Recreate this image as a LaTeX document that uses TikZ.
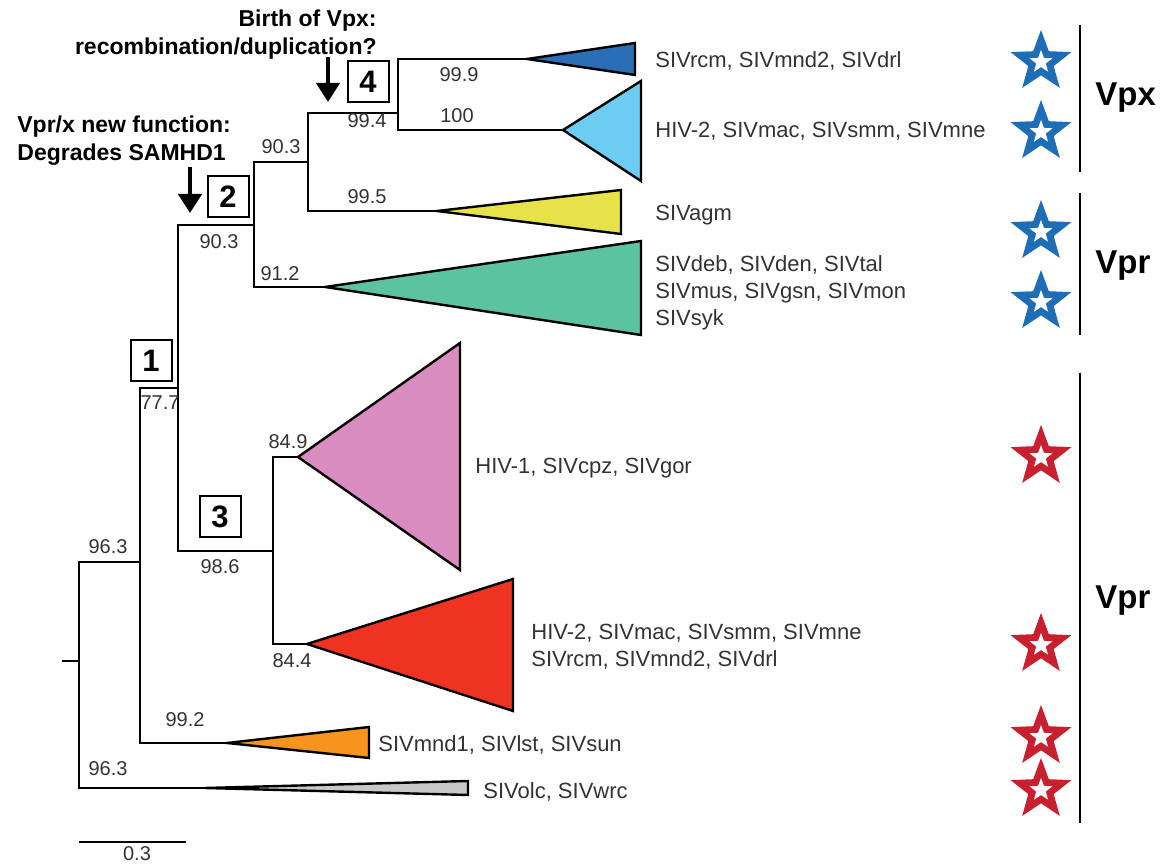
\documentclass[tikz,border=0pt]{standalone}
\usepackage{fontspec}
\setmainfont{Liberation Sans}
\usetikzlibrary{arrows.meta,shapes.geometric}
\definecolor{cdblue}{HTML}{2A6EB5}
\definecolor{clblue}{HTML}{6CCCF2}
\definecolor{cyellow}{HTML}{E8E24A}
\definecolor{cteal}{HTML}{5CC3A0}
\definecolor{cpink}{HTML}{D88CC0}
\definecolor{cred}{HTML}{EE3322}
\definecolor{corange}{HTML}{F7941E}
\definecolor{cgray}{HTML}{C8C8C8}
\definecolor{starblue}{HTML}{1E6EB7}
\definecolor{starred}{HTML}{C8202E}
\definecolor{txt}{HTML}{333333}
\tikzset{
  branch/.style={line width=1pt, line join=miter},
  clade/.style={draw=black, line width=1.2pt, line join=miter},
  boot/.style={font=\fontsize{10}{12}\selectfont, inner sep=0, text=txt},
  taxa/.style={font=\fontsize{11}{13.5}\selectfont, align=left, anchor=north west, inner sep=0, text=txt},
  numbox/.style={draw, line width=1pt, minimum size=20.5pt, inner sep=0, font=\bfseries\fontsize{15.5}{18}\selectfont},
  note/.style={font=\bfseries\fontsize{11.5}{14.25}\selectfont, inner sep=0},
  gene/.style={font=\bfseries\fontsize{16.5}{20}\selectfont, inner sep=0, anchor=base west},
  bigarrow/.style={line width=2.2pt, -{Triangle[width=11.5pt,length=9.5pt]}},
  bstar/.style={star, star points=5, star point ratio=2.4, inner sep=0, minimum size=32pt, fill=#1},
  wstar/.style={star, star points=5, star point ratio=2.4, inner sep=0, minimum size=12pt, fill=white},
  groupline/.style={line width=1pt}
}
\begin{document}
\begin{tikzpicture}[x=0.5pt,y=-0.5pt]
\useasboundingbox[fill=white] (0,0) rectangle (1168,865);

% ---- tree coordinates ----
\coordinate (stub) at (62,661);
\coordinate (R) at (79,661);
\coordinate (B) at (140,562);
\coordinate (G) at (205,788);
\coordinate (C) at (178,388);
\coordinate (O) at (227,743);
\coordinate (D) at (254,225);
\coordinate (E) at (273,551);
\coordinate (F) at (308,162);
\coordinate (T) at (325,287);
\coordinate (H) at (398,113);
\coordinate (Y) at (437,211);
\coordinate (DB) at (527,59);
\coordinate (LB) at (563,130);
\coordinate (P) at (298,457);
\coordinate (RD) at (307,644);

% ---- clades (triangles) ----
\filldraw[clade, fill=cdblue] (DB) -- (635,43) -- (635,75) -- cycle;
\filldraw[clade, fill=clblue] (LB) -- (641,81) -- (641,181) -- cycle;
\filldraw[clade, fill=cyellow] (Y) -- (621,190) -- (621,234) -- cycle;
\filldraw[clade, fill=cteal] (T) -- (641,241) -- (641,335) -- cycle;
\filldraw[clade, fill=cpink] (P) -- (460,343) -- (460,570) -- cycle;
\filldraw[clade, fill=cred] (RD) -- (513,579) -- (513,711) -- cycle;
\filldraw[clade, fill=corange] (O) -- (369,727) -- (369,758) -- cycle;
\filldraw[clade, fill=cgray] (G) -- (468,781) -- (468,795) -- cycle;

% ---- branches ----
\draw[branch] (stub) -- (R);
\draw[branch] (R) |- (B);
\draw[branch] (R) |- (G);
\draw[branch] (B) |- (C);
\draw[branch] (B) |- (O);
\draw[branch] (C) |- (D);
\draw[branch] (C) |- (E);
\draw[branch] (D) |- (F);
\draw[branch] (D) |- (T);
\draw[branch] (F) |- (H);
\draw[branch] (F) |- (Y);
\draw[branch] (H) |- (DB);
\draw[branch] (H) |- (LB);
\draw[branch] (E) |- (P);
\draw[branch] (E) |- (RD);

% ---- bootstrap values ----
\node[boot] (b999) at (459,75) {99.9};
\node[boot] (b100) at (457,116) {100};
\node[boot] (b994) at (367,121) {99.4};
\node[boot] (b903u) at (281,147) {90.3};
\node[boot] (b995) at (367,197) {99.5};
\node[boot] (b903l) at (219,242) {90.3};
\node[boot] (b912) at (280,274) {91.2};
\node[boot] (b777) at (160,403) {77.7};
\node[boot] (b849) at (288,442) {84.9};
\node[boot] (b986) at (220,567) {98.6};
\node[boot] (b963u) at (108,547) {96.3};
\node[boot] (b844) at (292,661) {84.4};
\node[boot] (b992) at (185,720) {99.2};
\node[boot] (b963l) at (108,769) {96.3};

% ---- numbered boxes ----
\node[numbox] (box1) at (151,361) {1};
\node[numbox] (box2) at (228,197) {2};
\node[numbox] (box3) at (220,517) {3};
\node[numbox] (box4) at (368,82) {4};

% ---- annotations ----
\node[note, anchor=north east, align=right] (birth) at (377,9) {Birth of Vpx:\\recombination/duplication?};
\node[note, anchor=north west, align=left] (func) at (17,115) {Vpr/x new function:\\Degrades SAMHD1};
\coordinate (a4s) at (328,57);
\coordinate (a4e) at (328,102);
\coordinate (a2s) at (190,167);
\coordinate (a2e) at (190,213);
\draw[bigarrow] (a4s) -- (a4e);
\draw[bigarrow] (a2s) -- (a2e);

% ---- taxa labels ----
\node[taxa] (t1) at (655,51) {SIVrcm, SIVmnd2, SIVdrl};
\node[taxa] (t2) at (655,122) {HIV-2, SIVmac, SIVsmm, SIVmne};
\node[taxa] (t3) at (655,205) {SIVagm};
\node[taxa] (t4) at (655,255) {SIVdeb, SIVden, SIVtal\\SIVmus, SIVgsn, SIVmon\\SIVsyk};
\node[taxa] (t5) at (475,458) {HIV-1, SIVcpz, SIVgor};
\node[taxa] (t6) at (531,624) {HIV-2, SIVmac, SIVsmm, SIVmne\\SIVrcm, SIVmnd2, SIVdrl};
\node[taxa] (t7) at (378,735) {SIVmnd1, SIVlst, SIVsun};
\node[taxa] (t8) at (483,782) {SIVolc, SIVwrc};

% ---- stars ----
\foreach \n/\yy in {1/62,2/132,3/232,4/302}{
  \node[bstar=starblue] (bs\n) at (1041,\yy) {};
  \node[wstar] (bw\n) at (1041,\yy) {};
}
\foreach \n/\yy in {1/457,2/645,3/737,4/790}{
  \node[bstar=starred] (rs\n) at (1041,\yy) {};
  \node[wstar] (rw\n) at (1041,\yy) {};
}

% ---- group bars ----
\coordinate (g1t) at (1080,25);
\coordinate (g1b) at (1080,172);
\coordinate (g2t) at (1080,193);
\coordinate (g2b) at (1080,335);
\coordinate (g3t) at (1080,373);
\coordinate (g3b) at (1080,823);
\draw[groupline] (g1t) -- (g1b);
\draw[groupline] (g2t) -- (g2b);
\draw[groupline] (g3t) -- (g3b);
\node[gene] (vpx) at (1095,106) {Vpx};
\node[gene] (vpr1) at (1095,274) {Vpr};
\node[gene] (vpr2) at (1095,609) {Vpr};

% ---- scale bar ----
\coordinate (sb1) at (79,842);
\coordinate (sb2) at (186,842);
\draw[line width=1.3pt] (sb1) -- (sb2);
\node[boot] (sbl) at (137,854) {0.3};
\end{tikzpicture}
\end{document}
